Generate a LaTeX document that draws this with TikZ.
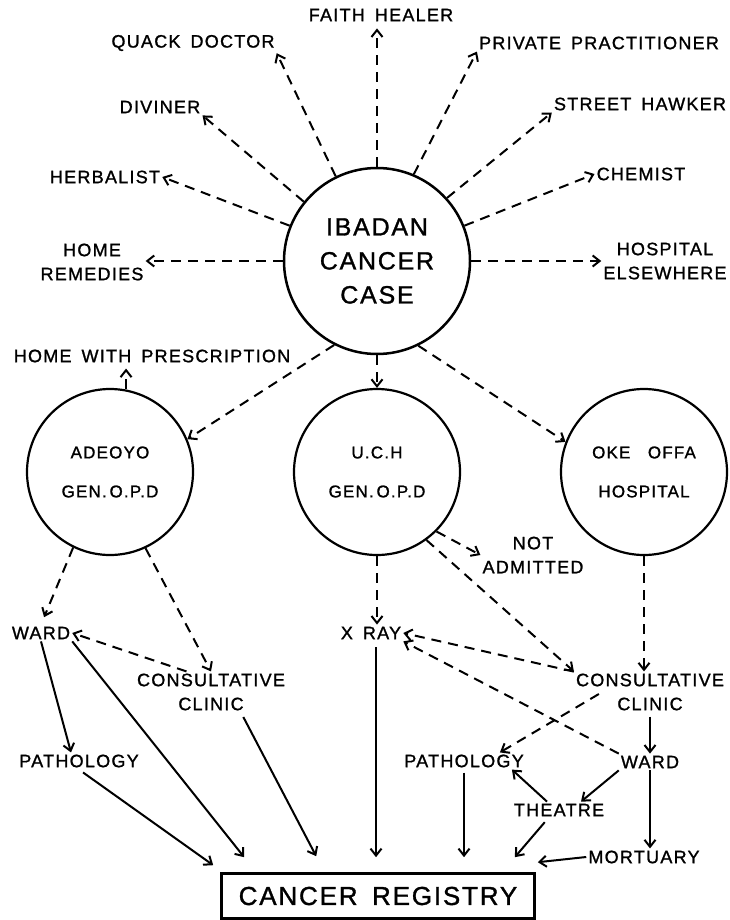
\documentclass[tikz,border=0pt]{standalone}
\usepackage{fontspec}
\newfontfamily\lettering[LetterSpace=7,WordSpace=1.6,FakeBold=1.2]{Liberation Sans}
\usetikzlibrary{positioning}
\usetikzlibrary{calc}
\usetikzlibrary{arrows.meta}
\tikzset{>={Straight Barb[length=7pt,width=11pt]}}
\tikzset{lbl/.style={inner sep=2pt, align=center, font=\lettering\fontsize{18}{24}\selectfont}}
\tikzset{hosp/.style={draw, circle, line width=2.2pt, minimum size=166pt, inner sep=0pt, align=center, font=\lettering\fontsize{17}{39}\selectfont}}
\tikzset{dsh/.style={->, line width=2pt, dash pattern=on 10pt off 7pt}}
\tikzset{sld/.style={->, line width=2pt}}

\begin{document}
\begin{tikzpicture}[x=1pt,y=-1pt]
\useasboundingbox (0,0) rectangle (729,920);
\begin{scope}[on grid]
\node[hosp, minimum size=186pt, line width=2.5pt, font=\lettering\fontsize{25}{34}\selectfont] (case) at (377,261) {IBADAN\\CANCER\\CASE};
\node[hosp] (uch) [below = 211pt of case] {U.C.H\\GEN.\,O.P.D};
\node[hosp] (adeoyo) [left = 267pt of uch] {ADEOYO\\GEN.\,O.P.D};
\node[hosp] (oke) [right = 267pt of uch] {OKE\hspace{8pt} OFFA\\HOSPITAL};
\end{scope}

\node[lbl] (faith) at (381,15) {FAITH HEALER};
\node[lbl] (quack) at (193,43) {QUACK DOCTOR};
\node[lbl] (private) at (599,43) {PRIVATE PRACTITIONER};
\node[lbl] (diviner) at (160,107) {DIVINER};
\node[lbl] (hawker) at (640,104) {STREET HAWKER};
\node[lbl] (herbalist) at (105,177) {HERBALIST};
\node[lbl] (chemist) at (641,174) {CHEMIST};
\node[lbl] (home) at (92,262) {HOME\\REMEDIES};
\node[lbl] (elsewhere) at (665,261) {HOSPITAL\\ELSEWHERE};
\node[lbl] (prescr) at (152,356) {HOME WITH PRESCRIPTION};
\node[lbl] (notadm) at (533,555) {NOT\\ADMITTED};
\node[lbl] (wardA) at (41,633) {WARD};
\node[lbl] (clinicA) at (211,692) {CONSULTATIVE\\CLINIC};
\node[lbl] (xray) at (371,633) {X RAY};
\node[lbl] (clinicU) at (650,692) {CONSULTATIVE\\CLINIC};
\node[lbl] (pathA) at (79,761) {PATHOLOGY};
\node[lbl] (pathU) at (464,761) {PATHOLOGY};
\node[lbl] (wardU) at (650,762) {WARD};
\node[lbl] (theatre) at (559,810) {THEATRE};
\node[lbl] (mortuary) at (644,857) {MORTUARY};
\node[draw, line width=2.6pt, minimum width=313pt, minimum height=45pt, font=\lettering\fontsize{26}{30}\selectfont] (registry) at (378,896) {CANCER REGISTRY};

\draw[dsh, shorten >=5pt] (case.north) -- (case.north |- faith.south);
\draw[dsh] (case.116) -- (quack.south east);
\draw[dsh] (case.67) -- (private.south west);
\draw[dsh] (case.141) -- (diviner.south east);
\draw[dsh] (case.42) -- (hawker.south west);
\draw[dsh] (case.158) -- (herbalist.east);
\draw[dsh] (case.22) -- (chemist.west);
\draw[dsh] (case.west) -- (case.west -| home.east);
\draw[dsh] (case.east) -- (case.east -| elsewhere.west);

\draw[dsh] (case.243) -- (adeoyo.23);
\draw[dsh] (case.south) -- (uch.north);
\draw[dsh] (case.296) -- (oke.159);
\draw[dsh, shorten >=4pt] (adeoyo.79) -- (adeoyo.79 |- prescr.south);
\draw[dsh] (uch.315) -- (notadm.west);

\draw[dsh, shorten >=8pt] (adeoyo.244) -- (wardA.north);
\draw[dsh] (adeoyo.295) -- (clinicA.north);
\draw[dsh] (uch.south) -- (uch.south |- xray.north);
\draw[dsh] (uch.306) -- (clinicU.north west);
\draw[dsh] (oke.south) -- (oke.south |- clinicU.north);
\draw[dsh] (clinicA.140) -- (wardA.east);
\draw[dsh] (clinicU.165) -- (xray.east);
\draw[dsh] (wardU.north west) -- (xray.south east);
\draw[dsh] ($(clinicU.west)+(25,2)$) -- ([xshift=-26]pathU.north east);

\draw[sld] (wardA.south) -- ([xshift=-8]pathA.north);
\draw[sld] (wardA.south east) -- ([xshift=24,yshift=15]registry.north west);
\draw[sld, shorten <=5pt] (pathA.south) -- ([xshift=-7,yshift=7]registry.north west);
\draw[sld, shorten <=5pt] ([xshift=30]clinicA.south) -- ([xshift=96,yshift=16]registry.north west);
\draw[sld, shorten <=6pt, shorten >=15pt] ([xshift=5]xray.south) -- ([xshift=5]xray.south |- registry.north);
\draw[sld, shorten <=3pt, shorten >=15pt] (pathU.south) -- (pathU.south |- registry.north);
\draw[sld, shorten <=4pt] (clinicU.south) -- (clinicU.south |- wardU.north);
\draw[sld] (wardU.south west) -- ([xshift=22]theatre.north);
\draw[sld] ([xshift=-12]theatre.north) -- ([xshift=-14]pathU.south east);
\draw[sld, shorten <=5pt] ([xshift=-11]theatre.south) -- ([xshift=-21,yshift=15]registry.north east);
\draw[sld] (wardU.south) -- (wardU.south |- mortuary.north);
\draw[sld] (mortuary.west) -- ([xshift=2,yshift=10]registry.north east);
\end{tikzpicture}
\end{document}
